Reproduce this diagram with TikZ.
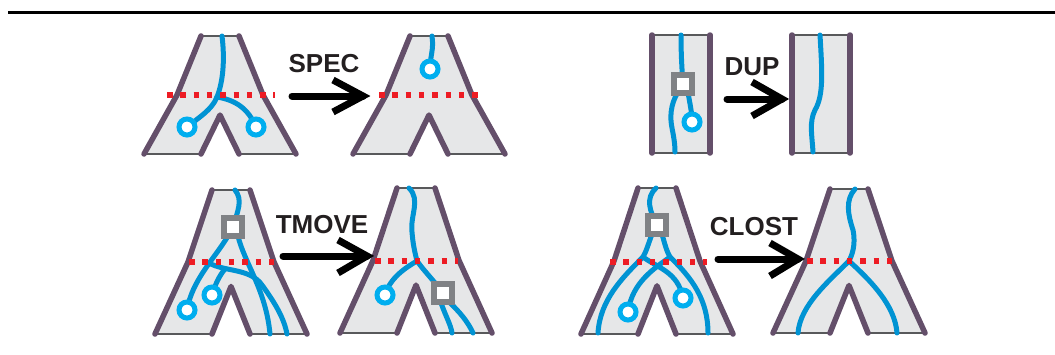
\documentclass[tikz,border=0pt]{standalone}
\usepackage{fontspec}
\setmainfont{Liberation Sans}
\definecolor{outl}{HTML}{644F6A}
\definecolor{treefill}{HTML}{E6E7E8}
\definecolor{edgegray}{HTML}{58595B}
\definecolor{lineage}{HTML}{0093D3}
\definecolor{gene}{HTML}{00AEEF}
\definecolor{cutred}{HTML}{ED1C24}
\definecolor{dupgray}{HTML}{808285}
\definecolor{txt}{HTML}{231F20}
\tikzset{
 side/.style={draw=outl,line width=5.5pt,line cap=round,line join=round},
 rim/.style={draw=edgegray,line width=1.4pt},
 lin/.style={draw=lineage,line width=5pt,line cap=round},
 leaf/.style={circle,draw=gene,fill=white,line width=5pt,minimum size=16pt,inner sep=0pt},
 dupbox/.style={rectangle,draw=dupgray,fill=white,line width=6pt,minimum size=18pt,inner sep=0pt},
 cut/.style={draw=cutred,line width=5.5pt,dash pattern=on 5.5pt off 7.8pt},
 shaft/.style={draw=black,line width=7pt,line cap=round},
 chev/.style={draw=black,line width=7pt,line join=miter},
 lbl/.style={font=\fontsize{26}{26}\selectfont\bfseries,text=txt,inner sep=0pt},
}
\newcommand{\mytree}[3]{%
 \begin{scope}[shift={(#1,#2)}]
  \fill[treefill] (-19,0) -- (19,0) -- (43,{0.5*#3}) -- (76,#3) -- (19,#3) -- (0,{0.67*#3}) -- (-19,#3) -- (-76,#3) -- (-43,{0.5*#3}) -- cycle;
  \draw[rim] (-19,0) -- (19,0);
  \draw[rim] (-76,#3) -- (-19,#3) (19,#3) -- (76,#3);
  \draw[side] (-19,0) -- (-43,{0.5*#3}) -- (-76,#3);
  \draw[side] (19,0) -- (43,{0.5*#3}) -- (76,#3);
  \draw[side] (-19,#3) -- (0,{0.67*#3}) -- (19,#3);
 \end{scope}}
\newcommand{\myrect}[4]{%
  \fill[treefill] (#1,#3) rectangle (#2,#4);
  \draw[rim] (#1,#3) -- (#2,#3) (#1,#4) -- (#2,#4);
  \draw[side] (#1,#3) -- (#1,#4) (#2,#3) -- (#2,#4);}
\begin{document}
\begin{tikzpicture}[x=1pt,y=-1pt]
\useasboundingbox (0,0) rectangle (1055,354);
% top rule
\coordinate (ruleL) at (8,12); \coordinate (ruleR) at (1055,12);
\draw[line width=3pt] (ruleL) -- (ruleR);

% ===== SPEC =====
\mytree{220}{36}{118}
\coordinate (s1j) at (217,97);
\coordinate (s1a) at (187,127); \coordinate (s1b) at (256,127);
\draw[lin] (222,36) .. controls (225,60) and (223,82) .. (s1j);
\draw[lin] (s1j) .. controls (212,110) and (198,118) .. (s1a);
\draw[lin] (s1j) .. controls (235,100) and (248,108) .. (s1b);
\draw[cut] (167,95) -- (275,95);
\node[leaf] (g1a) at (s1a) {};
\node[leaf] (g1b) at (s1b) {};

\mytree{429}{36}{118}
\coordinate (s2a) at (430,69);
\draw[lin] (432,36) .. controls (434,50) and (430,56) .. (s2a);
\draw[cut] (379,95) -- (478,95);
\node[leaf] (g2a) at (s2a) {};

\node[lbl] (tspec) at (324,64) {SPEC};
\coordinate (a1s) at (292,96); \coordinate (a1t) at (363,96);
\coordinate (a1u) at (333,80); \coordinate (a1d) at (333,112);
\draw[shaft] (a1s) -- (a1t);
\draw[chev] (a1u) -- (a1t) -- (a1d);

% ===== DUP =====
\myrect{652}{710}{35}{153}
\coordinate (d1q) at (683,84); \coordinate (d1c) at (692,122);
\draw[lin] (681,35) .. controls (681,55) and (682,70) .. (d1q);
\draw[lin] (678,92) .. controls (670,105) and (670,118) .. (672,128) .. controls (674,138) and (675,145) .. (675,152);
\draw[lin] (688,92) .. controls (690,105) and (692,112) .. (d1c);
\node[dupbox] (dq1) at (d1q) {};
\node[leaf] (dc1) at (d1c) {};

\myrect{792}{850}{35}{153}
\draw[lin] (820,35) .. controls (822,70) and (824,95) .. (815,110) .. controls (809,122) and (812,135) .. (813,152);

\node[lbl] (tdup) at (752,67) {DUP};
\coordinate (a2s) at (727,99); \coordinate (a2t) at (782,99);
\coordinate (a2u) at (752,82); \coordinate (a2d) at (752,116);
\draw[shaft] (a2s) -- (a2t);
\draw[chev] (a2u) -- (a2t) -- (a2d);

% ===== TMOVE =====
\mytree{231}{190}{144}
\coordinate (t1q) at (233,227);
\coordinate (t1c) at (187,310); \coordinate (t1d) at (212,295);
\draw[lin] (235,190) .. controls (243,200) and (238,210) .. (t1q);
\draw[lin] (228,236) .. controls (215,258) and (192,280) .. (t1c);
\draw[lin] (209,263) .. controls (225,272) and (250,268) .. (262,285) .. controls (275,303) and (284,318) .. (287,334);
\draw[lin] (t1d) .. controls (215,285) and (219,276) .. (225,269);
\draw[lin] (238,236) .. controls (244,262) and (266,290) .. (270,334);
\draw[cut] (189,262) -- (274,262);
\node[dupbox] (tq1) at (t1q) {};
\node[leaf] (tc1) at (t1c) {};
\node[leaf] (td1) at (t1d) {};

\mytree{416}{188}{145}
\coordinate (t2j) at (417,261);
\coordinate (t2q) at (443,293); \coordinate (t2c) at (385,295);
\draw[lin] (409,188) .. controls (421,200) and (410,215) .. (412,232) .. controls (413,245) and (415,253) .. (t2j);
\draw[lin] (t2j) .. controls (425,272) and (435,282) .. (t2q);
\draw[lin] (t2j) .. controls (405,268) and (390,278) .. (t2c);
\draw[lin] (440,300) .. controls (445,315) and (451,325) .. (452,333);
\draw[lin] (447,300) .. controls (460,312) and (468,322) .. (473,333);
\draw[cut] (375,261) -- (458,261);
\node[dupbox] (tq2) at (t2q) {};
\node[leaf] (tc2) at (t2c) {};

\node[lbl] (ttmove) at (322,225) {TMOVE};
\coordinate (a3s) at (283,256); \coordinate (a3t) at (367,256);
\coordinate (a3u) at (338,240); \coordinate (a3d) at (338,273);
\draw[shaft] (a3s) -- (a3t);
\draw[chev] (a3u) -- (a3t) -- (a3d);

% ===== CLOST =====
\mytree{657}{188}{146}
\coordinate (c1q) at (657,225);
\coordinate (c1l) at (643,257); \coordinate (c1r) at (670,257);
\coordinate (c1a) at (683,298); \coordinate (c1b) at (628,312);
\draw[lin] (656,188) .. controls (645,198) and (650,212) .. (c1q);
\draw[lin] (652,234) .. controls (648,245) and (646,252) .. (c1l);
\draw[lin] (c1l) .. controls (622,278) and (600,300) .. (598,333);
\draw[lin] (c1l) .. controls (658,268) and (678,272) .. (c1a);
\draw[lin] (662,234) .. controls (665,245) and (667,252) .. (c1r);
\draw[lin] (c1r) .. controls (692,278) and (708,300) .. (708,333);
\draw[lin] (c1r) .. controls (655,268) and (632,282) .. (c1b);
\draw[cut] (610,262) -- (707,262);
\node[dupbox] (cq1) at (c1q) {};
\node[leaf] (ca1) at (c1a) {};
\node[leaf] (cb1) at (c1b) {};

\mytree{849}{189}{144}
\coordinate (c2j) at (849,261);
\draw[lin] (855,189) .. controls (845,200) and (848,215) .. (853,230) .. controls (856,245) and (852,255) .. (c2j);
\draw[lin] (c2j) .. controls (830,280) and (800,305) .. (798,333);
\draw[lin] (c2j) .. controls (870,280) and (895,305) .. (897,333);
\draw[cut] (807,261) -- (893,261);

\node[lbl] (tclost) at (754,227) {CLOST};
\coordinate (a4s) at (718,259); \coordinate (a4t) at (798,259);
\coordinate (a4u) at (770,243); \coordinate (a4d) at (770,276);
\draw[shaft] (a4s) -- (a4t);
\draw[chev] (a4u) -- (a4t) -- (a4d);
\end{tikzpicture}
\end{document}
